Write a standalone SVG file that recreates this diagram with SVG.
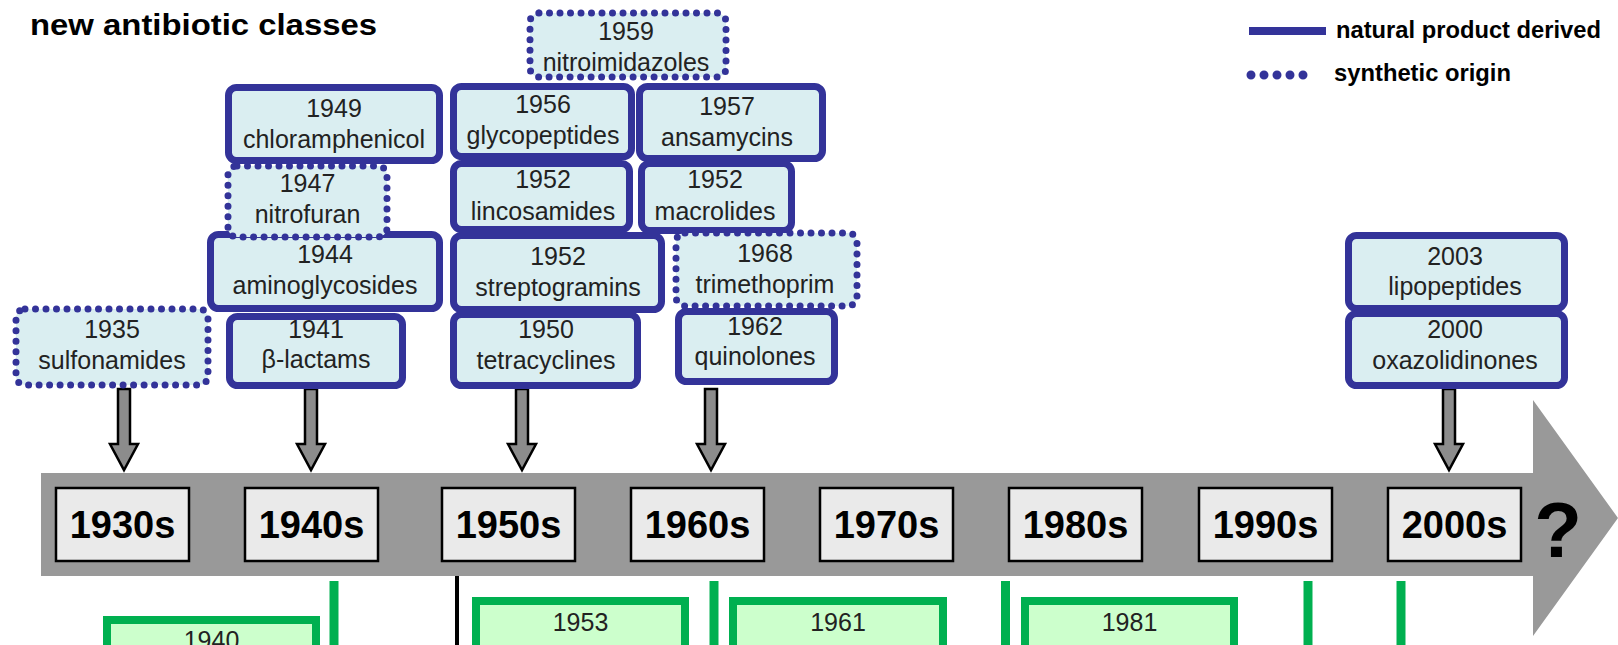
<svg xmlns="http://www.w3.org/2000/svg" width="1618" height="645" viewBox="0 0 1618 645">
<style>
.nat{fill:#DAEEF1;stroke:#333399;stroke-width:7}
.syn{fill:#DAEEF1;stroke:#333399;stroke-width:7;stroke-dasharray:0 10.5;stroke-linecap:round}
.bt{font-family:"Liberation Sans",Arial,sans-serif;font-size:25px;fill:#222;text-anchor:middle}
.dec{fill:#EAEAEA;stroke:#000;stroke-width:2.5}
.dt{font-family:"Liberation Sans",Arial,sans-serif;font-size:38px;font-weight:bold;fill:#000;text-anchor:middle}
.gb{fill:#CCFFCC;stroke:#00B050;stroke-width:8}
.gl{stroke:#00B050;stroke-width:9;fill:none}
.arr{fill:#8C8C8C;stroke:#000;stroke-width:2.5;stroke-linejoin:miter}
.lg{font-family:"Liberation Sans",Arial,sans-serif;font-size:24px;font-weight:bold;fill:#000}
</style>
<rect width="1618" height="645" fill="#fff"/>
<text x="30" y="35" font-family="'Liberation Sans',Arial,sans-serif" font-size="30" font-weight="bold" textLength="347" lengthAdjust="spacingAndGlyphs">new antibiotic classes</text>
<g id="legend">
<line x1="1249" y1="31" x2="1326" y2="31" stroke="#333399" stroke-width="8"/>
<text class="lg" x="1336" y="38" textLength="265" lengthAdjust="spacingAndGlyphs">natural product derived</text>
<line x1="1251" y1="75" x2="1316" y2="75" stroke="#333399" stroke-width="9" stroke-dasharray="0 13" stroke-linecap="round"/>
<text class="lg" x="1334" y="81" textLength="177" lengthAdjust="spacingAndGlyphs">synthetic origin</text>
</g>
<g id="timeline">
<polygon points="41,473 1533,473 1533,400 1618,518 1533,636 1533,576 41,576" fill="#999999"/>
<text x="1558" y="557" font-family="'Liberation Sans',Arial,sans-serif" font-size="78" font-weight="bold" text-anchor="middle">?</text>
</g>
<g id="decades">
<g id="d1930"><rect class="dec" x="56" y="488" width="133" height="73"/><text class="dt" x="122.5" y="538">1930s</text></g>
<g id="d1940"><rect class="dec" x="245" y="488" width="133" height="73"/><text class="dt" x="311.5" y="538">1940s</text></g>
<g id="d1950"><rect class="dec" x="442" y="488" width="133" height="73"/><text class="dt" x="508.5" y="538">1950s</text></g>
<g id="d1960"><rect class="dec" x="631" y="488" width="133" height="73"/><text class="dt" x="697.5" y="538">1960s</text></g>
<g id="d1970"><rect class="dec" x="820" y="488" width="133" height="73"/><text class="dt" x="886.5" y="538">1970s</text></g>
<g id="d1980"><rect class="dec" x="1009" y="488" width="133" height="73"/><text class="dt" x="1075.5" y="538">1980s</text></g>
<g id="d1990"><rect class="dec" x="1199" y="488" width="133" height="73"/><text class="dt" x="1265.5" y="538">1990s</text></g>
<g id="d2000"><rect class="dec" x="1388" y="488" width="133" height="73"/><text class="dt" x="1454.5" y="538">2000s</text></g>
</g>
<g id="connectors">
<polygon class="arr" points="118,389 130,389 130,444 138,444 124,470 110,444 118,444"/>
<polygon class="arr" points="305,389 317,389 317,444 325,444 311,470 297,444 305,444"/>
<polygon class="arr" points="516,389 528,389 528,444 536,444 522,470 508,444 516,444"/>
<polygon class="arr" points="705,389 717,389 717,444 725,444 711,470 697,444 705,444"/>
<polygon class="arr" points="1443,389 1455,389 1455,444 1463,444 1449,470 1435,444 1443,444"/>
<line class="gl" x1="334" y1="581" x2="334" y2="650"/>
<line x1="457" y1="576" x2="457" y2="650" stroke="#000" stroke-width="4"/>
<line class="gl" x1="714" y1="581" x2="714" y2="650"/>
<line class="gl" x1="1005.5" y1="581" x2="1005.5" y2="650"/>
<line class="gl" x1="1308" y1="581" x2="1308" y2="650"/>
<line class="gl" x1="1401" y1="581" x2="1401" y2="650"/>
</g>
<g id="b1935"><rect class="syn" x="16" y="309" width="192" height="76" rx="9"/><text class="bt" x="112" y="338">1935</text><text class="bt" x="112" y="369">sulfonamides</text></g>
<g id="b1941"><rect class="nat" x="229.5" y="316.5" width="173" height="69" rx="8"/><text class="bt" x="316" y="338">1941</text><text class="bt" x="316" y="368">β-lactams</text></g>
<g id="b1944"><rect class="nat" x="210.5" y="234.5" width="229" height="74" rx="8"/><text class="bt" x="325" y="263">1944</text><text class="bt" x="325" y="294">aminoglycosides</text></g>
<g id="b1947"><rect class="syn" x="228" y="166" width="159" height="71" rx="9"/><text class="bt" x="307.5" y="192">1947</text><text class="bt" x="307.5" y="223">nitrofuran</text></g>
<g id="b1949"><rect class="nat" x="228.5" y="87.5" width="211" height="73" rx="8"/><text class="bt" x="334" y="117">1949</text><text class="bt" x="334" y="148">chloramphenicol</text></g>
<g id="b1950"><rect class="nat" x="453.5" y="314.5" width="184" height="71" rx="8"/><text class="bt" x="546" y="338">1950</text><text class="bt" x="546" y="369">tetracyclines</text></g>
<g id="b1952s"><rect class="nat" x="453.5" y="235.5" width="208" height="74" rx="8"/><text class="bt" x="558" y="265">1952</text><text class="bt" x="558" y="296">streptogramins</text></g>
<g id="b1952l"><rect class="nat" x="453.5" y="163.5" width="176" height="66" rx="8"/><text class="bt" x="543" y="188">1952</text><text class="bt" x="543" y="220">lincosamides</text></g>
<g id="b1952m"><rect class="nat" x="641.5" y="163.5" width="150" height="67" rx="8"/><text class="bt" x="715" y="188">1952</text><text class="bt" x="715" y="220">macrolides</text></g>
<g id="b1956"><rect class="nat" x="453.5" y="86.5" width="178" height="70" rx="8"/><text class="bt" x="543" y="113">1956</text><text class="bt" x="543" y="144">glycopeptides</text></g>
<g id="b1957"><rect class="nat" x="639.5" y="86.5" width="183" height="72" rx="8"/><text class="bt" x="727" y="115">1957</text><text class="bt" x="727" y="146">ansamycins</text></g>
<g id="b1959"><rect class="syn" x="530" y="13" width="196" height="64" rx="9"/><text class="bt" x="626" y="40">1959</text><text class="bt" x="626" y="71">nitroimidazoles</text></g>
<g id="b1962"><rect class="nat" x="678.5" y="311.5" width="156" height="70" rx="8"/><text class="bt" x="755" y="335">1962</text><text class="bt" x="755" y="365">quinolones</text></g>
<g id="b1968"><rect class="syn" x="676" y="233" width="181" height="73" rx="9"/><text class="bt" x="765" y="262">1968</text><text class="bt" x="765" y="293">trimethoprim</text></g>
<g id="b2003"><rect class="nat" x="1348.5" y="235.5" width="216" height="73" rx="8"/><text class="bt" x="1455" y="265">2003</text><text class="bt" x="1455" y="295">lipopeptides</text></g>
<g id="b2000"><rect class="nat" x="1348.5" y="313.5" width="216" height="72" rx="8"/><text class="bt" x="1455" y="338">2000</text><text class="bt" x="1455" y="369">oxazolidinones</text></g>
<g id="g1940"><rect class="gb" x="107" y="620" width="209" height="60"/><text class="bt" x="211.5" y="649">1940</text></g>
<g id="g1953"><rect class="gb" x="476" y="601" width="209" height="80"/><text class="bt" x="580.5" y="631">1953</text></g>
<g id="g1961"><rect class="gb" x="733" y="601" width="210" height="80"/><text class="bt" x="838" y="631">1961</text></g>
<g id="g1981"><rect class="gb" x="1025" y="601" width="209" height="80"/><text class="bt" x="1129.5" y="631">1981</text></g>
</svg>
